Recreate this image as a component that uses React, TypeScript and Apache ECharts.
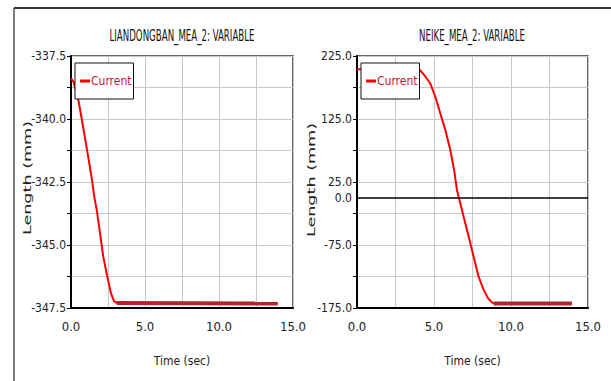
import React, { useEffect, useRef } from "react";
import * as echarts from "echarts";

const leftTitle = "LIANDONGBAN_MEA_2: VARIABLE";
const rightTitle = "NEIKE_MEA_2: VARIABLE";
const seriesName = "Current";
const xName = "Time (sec)";
const yName = "Length (mm)";
const zeroLabel = "0.0";

const leftTime = [0, 0.18, 0.52, 0.74, 0.97, 1.2, 1.42, 1.57, 1.74, 1.96, 2.18, 2.45, 2.7, 2.91, 3.09, 13.97];
const leftLength = [-338.39, -338.53, -339.32, -340.05, -340.84, -341.63, -342.42, -343.08, -343.61, -344.53, -345.46, -346.25, -346.91, -347.24, -347.3, -347.32];

const rightTime = [0, 4.05, 4.38, 4.76, 5.09, 5.41, 5.74, 6.06, 6.32, 6.49, 6.6, 6.92, 7.25, 7.57, 7.89, 8.22, 8.5, 8.76, 8.88, 13.95];
const rightLength = [203.9, 203.9, 194.4, 181.3, 160.1, 133.8, 107.3, 75.7, 42, 12.4, 1.7, -29.9, -61.6, -93.3, -124.9, -146, -159.2, -166.1, -167.7, -167.7];

const xMin = 0;
const xMax = 15;
const xStep = 2.5;
const leftYMin = -347.5;
const leftYMax = -337.5;
const leftYStep = 1.25;
const rightYMin = -175;
const rightYMax = 225;
const rightYStep = 50;
const zeroValue = 0;

const NARROW = "'DejaVu Sans Condensed', 'Liberation Sans Narrow', 'Arial Narrow', 'Liberation Sans', sans-serif";

const zip = (a: number[], b: number[]) => a.map((v, i) => [v, b[i]]);
const everyOther = (min: number, step: number) => (v: number) =>
  Math.round((v - min) / step) % 2 === 0 ? v.toFixed(1) : "";

export default function App() {
  const ref = useRef<HTMLDivElement>(null);
  useEffect(() => {
    if (!ref.current) return;
    const chart = echarts.init(ref.current, undefined, { renderer: "svg" });

    const grids = [
      { left: 71, top: 56, width: 222, height: 252 },
      { left: 357, top: 56, width: 231, height: 252 },
    ].map((g) => ({
      ...g,
      show: true,
      backgroundColor: "#fff",
      borderColor: "#333",
      borderWidth: 1.5,
    }));

    const xAxis = [0, 1].map((i) => ({
      type: "value",
      gridIndex: i,
      min: xMin,
      max: xMax,
      interval: xStep,
      name: xName,
      nameLocation: "middle",
      nameGap: 47,
      nameMoveOverlap: false,
      nameTextStyle: { fontFamily: NARROW, fontSize: 12, color: "#222" },
      axisLine: { show: true, onZero: false, lineStyle: { color: "#000", width: 2 } },
      axisTick: { show: false },
      axisLabel: {
        fontFamily: NARROW,
        fontSize: 13,
        color: "#222",
        margin: 12,
        formatter: everyOther(xMin, xStep),
      },
      splitLine: { show: true, lineStyle: { color: "#c8c8c8", width: 1 } },
    }));

    const yBase = {
      type: "value",
      axisLine: { show: true, onZero: false, lineStyle: { color: "#000", width: 2 } },
      axisTick: { show: true, inside: false, length: 4, interval: 0, lineStyle: { color: "#000", width: 1 } },
      splitLine: { show: true, lineStyle: { color: "#c8c8c8", width: 1 } },
    };
    const yLabel = (min: number, step: number) => ({
      fontFamily: NARROW,
      fontSize: 12,
      color: "#222",
      margin: 5,
      formatter: everyOther(min, step),
    });
    const yAxis = [
      { ...yBase, gridIndex: 0, min: leftYMin, max: leftYMax, interval: leftYStep, axisLabel: yLabel(leftYMin, leftYStep) },
      { ...yBase, gridIndex: 1, min: rightYMin, max: rightYMax, interval: rightYStep, axisLabel: yLabel(rightYMin, rightYStep) },
    ];

    const leftData = zip(leftTime, leftLength);
    const rightData = zip(rightTime, rightLength);

    const mainLine = { color: "#ff0000", width: 2 };
    const flatLine = { color: "#b3232a", width: 4 };

    const series: any[] = [
      {
        name: seriesName,
        type: "line",
        xAxisIndex: 0,
        yAxisIndex: 0,
        data: leftData,
        showSymbol: false,
        color: "#ff0000",
        lineStyle: mainLine,
      },
      {
        name: seriesName,
        type: "line",
        xAxisIndex: 0,
        yAxisIndex: 0,
        data: leftData.slice(-2),
        showSymbol: false,
        color: "#ff0000",
        lineStyle: flatLine,
      },
      {
        name: seriesName,
        type: "line",
        xAxisIndex: 1,
        yAxisIndex: 1,
        data: rightData,
        showSymbol: false,
        color: "#ff0000",
        lineStyle: mainLine,
        z: 3,
        markLine: {
          silent: true,
          symbol: "none",
          lineStyle: { color: "#000", width: 1.5, type: "solid" },
          label: {
            position: "start",
            distance: 5,
            formatter: () => zeroLabel,
            fontFamily: NARROW,
            fontSize: 12,
            color: "#222",
          },
          data: [{ yAxis: zeroValue }],
        },
      },
      {
        name: seriesName,
        type: "line",
        xAxisIndex: 1,
        yAxisIndex: 1,
        data: rightData.slice(-2),
        showSymbol: false,
        color: "#ff0000",
        lineStyle: flatLine,
        z: 3,
      },
    ];

    const legendBase = {
      data: [seriesName],
      orient: "horizontal",
      backgroundColor: "#fff",
      borderColor: "#111",
      borderWidth: 1,
      padding: [12, 2, 12, 5],
      itemWidth: 10,
      itemHeight: 3,
      itemGap: 0,
      icon: "rect",
      selectedMode: false,
      textStyle: { fontFamily: NARROW, fontSize: 12, color: "#c8143c", padding: [0, 0, 0, -4] },
    };

    const titleStyle = (text: string) => ({
      text,
      fontFamily: NARROW,
      fontSize: 16,
      fill: "#111",
      align: "center",
      verticalAlign: "middle",
    });
    const yNameStyle = {
      text: yName,
      fontFamily: "'DejaVu Sans', sans-serif",
      fontSize: 11,
      fill: "#222",
      align: "center",
      verticalAlign: "middle",
    };

    chart.setOption({
      animation: false,
      backgroundColor: "#fff",
      grid: grids,
      xAxis,
      yAxis,
      series,
      legend: [
        { ...legendBase, left: 75, top: 63 },
        { ...legendBase, left: 361, top: 63 },
      ],
      graphic: [
        { type: "text", x: 182, y: 36, scaleX: 0.6, style: titleStyle(leftTitle) },
        { type: "text", x: 472, y: 36, scaleX: 0.6, style: titleStyle(rightTitle) },
        { type: "text", x: 27, y: 178, rotation: Math.PI / 2, scaleX: 1.6, style: yNameStyle },
        { type: "text", x: 311, y: 180, rotation: Math.PI / 2, scaleX: 1.6, style: yNameStyle },
        {
          type: "line",
          shape: { x1: 14, y1: 8, x2: 611, y2: 8 },
          style: { stroke: "#333", lineWidth: 2 },
        },
        {
          type: "line",
          shape: { x1: 14, y1: 8, x2: 14, y2: 381 },
          style: { stroke: "#555", lineWidth: 1.5 },
        },
      ],
    });
    return () => chart.dispose();
  }, []);
  return (
    <div
      ref={ref}
      style={{ position: "absolute", left: 0, top: 0, width: 611, height: 381, background: "#fff" }}
    />
  );
}
